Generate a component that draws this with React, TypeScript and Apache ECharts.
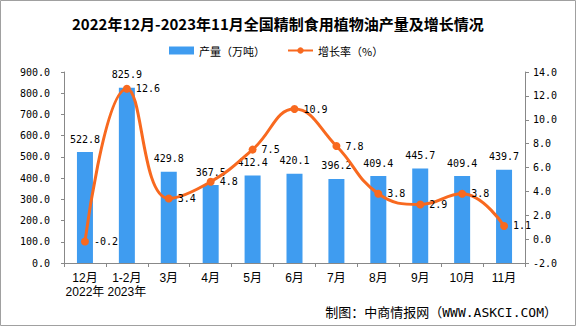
import React, { useEffect, useRef } from "react";
import * as echarts from "echarts";

const categories = ["12月\n2022年", "1-2月\n2023年", "3月", "4月", "5月", "6月", "7月", "8月", "9月", "10月", "11月"];
const production = [522.8, 825.9, 429.8, 367.5, 412.4, 420.1, 396.2, 409.4, 445.7, 409.4, 439.7];
const growth = [-0.2, 12.6, 3.4, 4.8, 7.5, 10.9, 7.8, 3.8, 2.9, 3.8, 1.1];
const titleText = "2022年12月-2023年11月全国精制食用植物油产量及增长情况";
const footerText = "制图：中商情报网（WWW.ASKCI.COM）";

const MONO = "'DejaVu Sans Mono', 'Noto Sans CJK SC', monospace";
const SANS = "'Liberation Sans', 'Noto Sans CJK SC', sans-serif";

export default function App() {
  const ref = useRef<HTMLDivElement>(null);
  useEffect(() => {
    document.body.style.margin = "0";
    const chart = echarts.init(ref.current!, null, { renderer: "svg" });
    chart.setOption({
      animation: false,
      backgroundColor: "#ffffff",
      title: {
        text: titleText,
        left: 67,
        top: 11,
        textStyle: { fontSize: 15, fontWeight: "bold", color: "#000", fontFamily: "'Noto Sans CJK SC', sans-serif" },
      },
      legend: {
        top: 40,
        left: 164,
        itemWidth: 25,
        itemHeight: 8,
        itemGap: 22,
        textStyle: { fontSize: 11, color: "#000", fontFamily: "'Noto Sans CJK SC', sans-serif" },
        data: [
          { name: "产量（万吨）", icon: "rect" },
          { name: "增长率（%）" },
        ],
      },
      grid: { left: 64, right: 51, top: 72, bottom: 63 },
      xAxis: {
        type: "category",
        data: categories,
        axisLine: { lineStyle: { color: "#888", width: 1 } },
        axisTick: { show: true, length: 4, lineStyle: { color: "#888" } },
        axisLabel: { fontSize: 12, color: "#000", fontFamily: SANS, margin: 8, lineHeight: 14, interval: 0 },
      },
      yAxis: [
        {
          type: "value",
          min: 0,
          max: 900,
          interval: 100,
          splitLine: { show: false },
          axisLine: { show: true, lineStyle: { color: "#888" } },
          axisTick: { show: true, length: 3, lineStyle: { color: "#888" } },
          axisLabel: { formatter: (v: number) => v.toFixed(1), fontSize: 10, color: "#000", fontFamily: MONO, margin: 14 },
        },
        {
          type: "value",
          min: -2,
          max: 14,
          interval: 2,
          splitLine: { show: false },
          axisLine: { show: true, lineStyle: { color: "#888" } },
          axisTick: { show: true, length: 4, lineStyle: { color: "#888" } },
          axisLabel: { formatter: (v: number) => v.toFixed(1), fontSize: 10, color: "#000", fontFamily: MONO, margin: 8 },
        },
      ],
      series: [
        {
          name: "产量（万吨）",
          type: "bar",
          data: production,
          barWidth: 16,
          itemStyle: { color: "#3F9CF0" },
          label: {
            show: true,
            position: "top",
            distance: 8,
            formatter: (p: any) => p.value.toFixed(1),
            fontSize: 10,
            color: "#000",
            fontFamily: MONO,
          },
        },
        {
          name: "增长率（%）",
          type: "line",
          yAxisIndex: 1,
          data: growth,
          smooth: 0.45,
          symbol: "circle",
          symbolSize: 8,
          lineStyle: { color: "#F8691F", width: 3 },
          itemStyle: { color: "#F8691F" },
          label: {
            show: true,
            position: "right",
            distance: 5,
            formatter: (p: any) => p.value.toFixed(1),
            fontSize: 10,
            color: "#000",
            fontFamily: MONO,
          },
          z: 5,
        },
      ],
      graphic: [
        {
          type: "rect",
          shape: { x: 0.5, y: 0.5, width: 575, height: 325 },
          style: { fill: "none", stroke: "#a0a0a0", lineWidth: 1 },
          silent: true,
        },
        {
          type: "text",
          right: 19,
          top: 306,
          style: { text: footerText, fontSize: 13, fill: "#000", fontFamily: MONO },
        },
      ],
    });
    return () => chart.dispose();
  }, []);
  return <div ref={ref} style={{ width: 576, height: 326 }} />;
}
